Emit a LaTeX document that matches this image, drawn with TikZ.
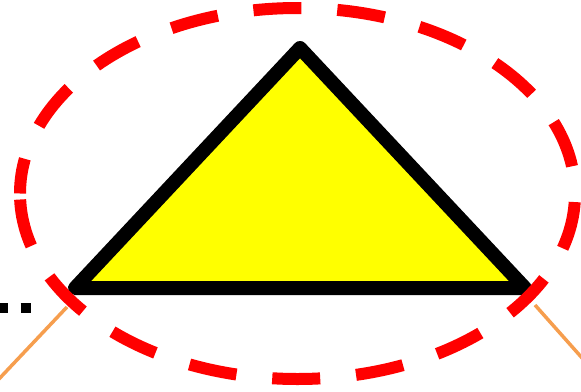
\documentclass[tikz,border=0pt]{standalone}
\definecolor{lineorange}{RGB}{246,158,78}
\definecolor{signyellow}{RGB}{255,255,0}
\definecolor{ringred}{RGB}{255,0,0}
\tikzset{
  warnbox/.style={draw=black, fill=signyellow, line width=14pt, line join=round},
  ringdash/.style={draw=ringred, line width=12pt, dash pattern=on 48pt off 36pt, dash phase=78pt},
  leadline/.style={draw=lineorange, line width=3.5pt},
  dotrow/.style={draw=black, line width=10pt, dash pattern=on 10pt off 12.5pt}
}
\begin{document}
\begin{tikzpicture}[x=1pt, y=-1pt]
        \useasboundingbox (0,0) rectangle (581,391);

        % Triangle corners
        \coordinate (T) at (300,48);
        \coordinate (L) at (75,288);
        \coordinate (R) at (525,288);

        % Lead line ends
        \coordinate (LA) at (67,307);
        \coordinate (LB) at (-2,380);
        \coordinate (RA) at (535,305);
        \coordinate (RB) at (583,359);

        % Dots on the left
        \coordinate (DA) at (-2,308);
        \coordinate (DB) at (31,308);

        \draw[leadline] (LA) -- (LB);
        \draw[leadline] (RA) -- (RB);
        \draw[dotrow] (DA) -- (DB);

        % Triangle
        \draw[warnbox] (T) -- (R) -- (L) -- cycle;

        % Dashed ring
        \coordinate (W) at (20,193.5);
        \draw[ringdash] (W) arc[start angle=180, end angle=-180, x radius=277.5, y radius=185.5];
    \end{tikzpicture}
\end{document}
